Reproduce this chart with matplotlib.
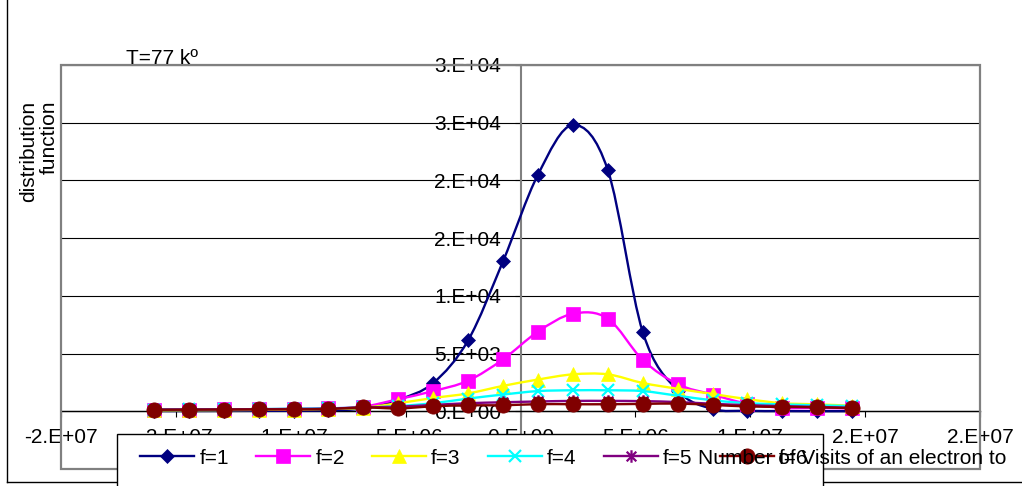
import numpy as np
import matplotlib
matplotlib.use("Agg")
import matplotlib.pyplot as plt
from matplotlib.path import Path
from matplotlib.patches import PathPatch, Rectangle
from matplotlib.lines import Line2D

plt.rcParams['font.family'] = ['Liberation Sans', 'DejaVu Sans']

# ---------------- data ----------------
x_vals = [-1.596e7, -1.444e7, -1.292e7, -1.140e7, -9.88e6, -8.36e6, -6.84e6,
          -5.32e6, -3.80e6, -2.28e6, -7.6e5, 7.6e5, 2.28e6, 3.80e6, 5.32e6,
          6.84e6, 8.36e6, 9.88e6, 1.140e7, 1.292e7, 1.444e7]
f1 = [20, 20, 30, 40, 50, 80, 250, 1000, 2450, 6150, 13000, 20500, 24800, 20900,
      6870, 1800, 200, 40, 20, 10, 10]
f2 = [150, 150, 160, 180, 200, 250, 400, 1050, 1750, 2650, 4500, 6900, 8450, 8030,
      4450, 2350, 1450, 650, 300, 280, 250]
f3 = [80, 90, 100, 120, 150, 200, 300, 700, 1150, 1550, 2200, 2750, 3200, 3200,
      2450, 1950, 1500, 1050, 700, 600, 480]
f4 = [150, 160, 170, 190, 220, 260, 330, 450, 700, 1100, 1450, 1750, 1820, 1820,
      1750, 1350, 950, 700, 600, 520, 450]
f5 = [150, 160, 170, 180, 200, 230, 330, 400, 550, 700, 780, 850, 900, 900,
      880, 800, 650, 530, 450, 380, 300]
f6 = [130, 140, 150, 160, 170, 200, 330, 250, 430, 520, 520, 620, 610, 610,
      640, 670, 550, 420, 380, 340, 270]

series_labels = ["f=1", "f=2", "f=3", "f=4", "f=5", "f=6"]
series_values = [f1, f2, f3, f4, f5, f6]

x_ticks = [-2e7, -1.5e7, -1e7, -5e6, 0, 5e6, 1e7, 1.5e7, 2e7]
x_tick_labels = ["-2.E+07", "-2.E+07", "-1.E+07", "-5.E+06", "0.E+00",
                 "5.E+06", "1.E+07", "2.E+07", "2.E+07"]
y_ticks = [-5000, 0, 5000, 10000, 15000, 20000, 25000, 30000]
y_tick_labels = ["-5.E+03", "0.E+00", "5.E+03", "1.E+04", "2.E+04", "2.E+04",
                 "3.E+04", "3.E+04"]

# ---------------- styles ----------------
colors = ["#000080", "#FF00FF", "#FFFF00", "#00FFFF", "#800080", "#800000"]
star = Path([(-1, -1), (1, 1), (-1, 1), (1, -1), (0, -1.3), (0, 1.3)],
            [Path.MOVETO, Path.LINETO, Path.MOVETO, Path.LINETO,
             Path.MOVETO, Path.LINETO])
markers = ["D", "s", "^", "x", star, "o"]
msizes = [7.5, 10.5, 10, 8, 9, 11]
FS = 15

W, H = 1022, 486
fig = plt.figure(figsize=(W / 100, H / 100), dpi=100)
ax = fig.add_axes([61 / W, 1 - 469 / H, (980 - 61) / W, (469 - 65) / H])
ax.set_xlim(-2e7, 2e7)
ax.set_ylim(-5000, 30000)


def smooth_path(xs, ys):
    pts = np.column_stack([xs, ys]).astype(float)
    n = len(pts)
    verts = [pts[0]]
    codes = [Path.MOVETO]
    for i in range(n - 1):
        p0 = pts[i - 1] if i > 0 else pts[i]
        p1 = pts[i]
        p2 = pts[i + 1]
        p3 = pts[i + 2] if i + 2 < n else pts[i + 1]
        c1 = p1 + (p2 - p0) / 6.0
        c2 = p2 - (p3 - p1) / 6.0
        verts += [c1, c2, p2]
        codes += [Path.CURVE4] * 3
    return Path(verts, codes)


handles = []
for k, (lab, vals) in enumerate(zip(series_labels, series_values)):
    c = colors[k]
    ax.add_patch(PathPatch(smooth_path(x_vals, vals), fill=False, edgecolor=c,
                           lw=1.7, zorder=3 + k * 0.1))
    mk = dict(marker=markers[k], markersize=msizes[k], color=c, mfc=c, mec=c)
    mk["mew"] = 1.6 if k in (3, 4) else 0.5
    ax.plot(x_vals, vals, ls="none", zorder=3.05 + k * 0.1, **mk)
    handles.append(Line2D([], [], lw=1.7, **mk))

# spines / axes
for s in ("top", "right"):
    ax.spines[s].set_visible(False)
ax.spines["left"].set_position(("data", 0))
ax.spines["left"].set_color("#808080")
ax.spines["left"].set_linewidth(1.5)
ax.spines["bottom"].set_position(("data", 0))
ax.spines["bottom"].set_color("black")
ax.spines["bottom"].set_linewidth(1.0)
ax.add_patch(Rectangle((0, 0), 1, 1, transform=ax.transAxes, fill=False,
                       edgecolor="#808080", lw=1.6, clip_on=False, zorder=2.6))

ax.set_xticks(x_ticks, labels=x_tick_labels)
ax.set_yticks(y_ticks, labels=y_tick_labels)
ax.tick_params(axis="x", direction="out", length=4, width=0.8, pad=8,
               labelsize=FS, colors="black")
ax.tick_params(axis="y", direction="out", length=4, width=0.8, pad=10,
               labelsize=FS, colors="black")
ax.yaxis.grid(True, color="black", lw=0.8)
ax.set_axisbelow(True)

# texts
fig.text(126 / W, 1 - 58 / H, "T=77 kº", ha="left", va="center", fontsize=FS)
fig.text(39 / W, 1 - 101 / H, "distribution\nfunction", rotation=90,
         ha="center", va="top", multialignment="right", fontsize=FS,
         linespacing=1.15)

# legend box
fig.patches.append(Rectangle((117 / W, -0.05), (823 - 117) / W,
                             0.05 + (H - 434) / H, transform=fig.transFigure,
                             facecolor="white", edgecolor="black", lw=1.0,
                             zorder=4))
fig.legend(handles, series_labels, ncol=6, loc="center left",
           bbox_to_anchor=(140 / W, 1 - 458 / H), frameon=False, fontsize=FS,
           handlelength=2.6, handletextpad=0.25, columnspacing=1.3,
           borderaxespad=0, borderpad=0).set_zorder(5)

fig.text(852 / W, 1 - 458 / H, "Number of Visits of an electron to",
         ha="center", va="center", fontsize=FS, zorder=10)

# outer chart border
fig.lines.append(Line2D([7 / W, 7 / W], [1 - 482 / H, 1.0],
                        transform=fig.transFigure, color="black", lw=1.0))
fig.lines.append(Line2D([7 / W, 1.0], [1 - 482 / H, 1 - 482 / H],
                        transform=fig.transFigure, color="black", lw=1.0))

fig.savefig("out.png", dpi=100)
